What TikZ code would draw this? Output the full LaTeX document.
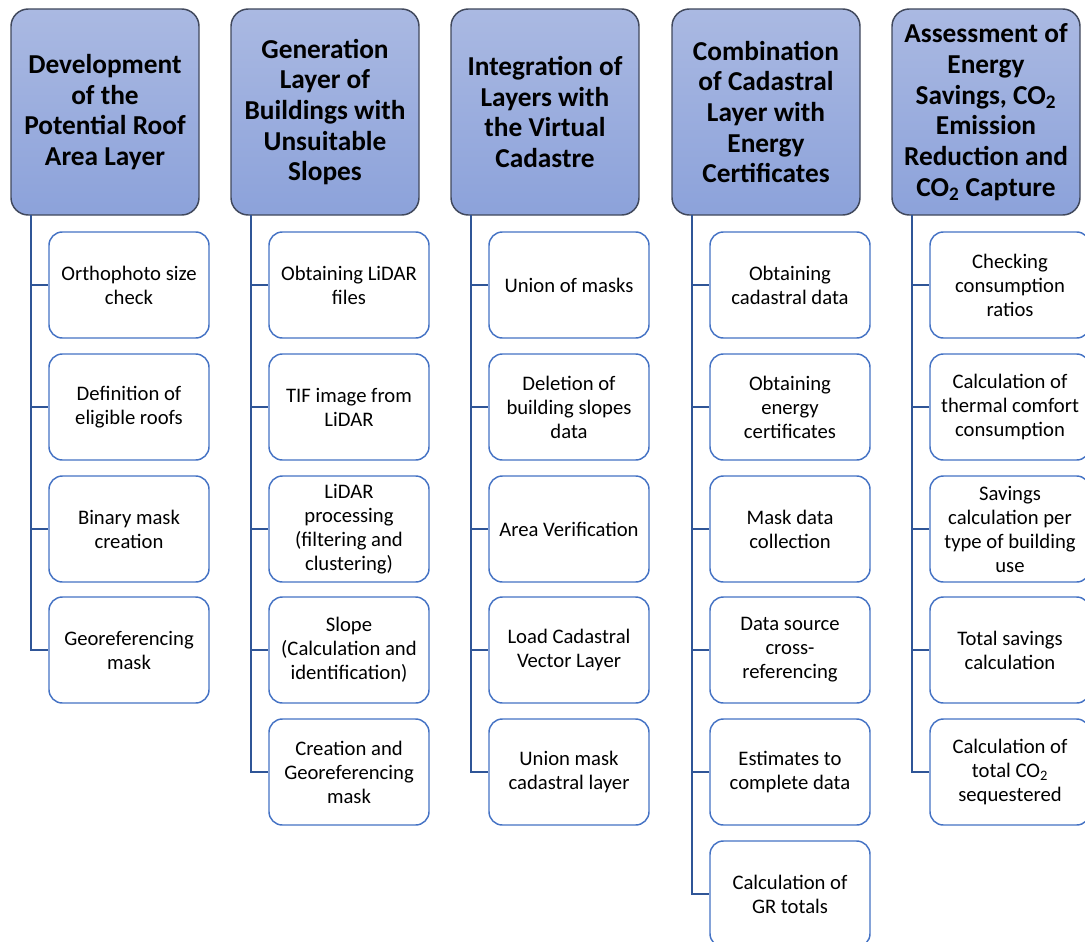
\documentclass[tikz,border=0pt]{standalone}
\usepackage{fontspec}
\setmainfont{Carlito}
\usetikzlibrary{positioning}

\definecolor{headtop}{RGB}{170,185,226}
\definecolor{headbot}{RGB}{140,162,218}
\definecolor{headline}{RGB}{64,72,92}
\definecolor{stepline}{RGB}{68,114,196}
\definecolor{trunk}{RGB}{47,85,151}

\tikzset{
  head/.style={draw=headline, line width=1.1pt, rounded corners=13pt, top color=headtop, bottom color=headbot,
    minimum width=141pt, minimum height=154.5pt, align=center, inner sep=2pt,
    font=\fontsize{20.5}{23}\selectfont\bfseries},
  stepbox/.style={draw=stepline, line width=1.1pt, rounded corners=10pt, fill=white,
    minimum width=120pt, minimum height=79.5pt, align=center, inner sep=2pt,
    font=\fontsize{15.5}{18}\selectfont},
  conn/.style={draw=trunk, line width=2pt}
}

\begin{document}
\begin{tikzpicture}[x=0.75pt,y=0.75pt,yscale=-1,xscale=1]
\useasboundingbox (0,0) rectangle (1085,942);

% Headers
\node [head] (h1) at (105,112) {Development\\of the\\Potential Roof\\Area Layer};
\node [head] (h2) at (325,112) {Generation\\Layer of\\Buildings with\\Unsuitable\\Slopes};
\node [head] (h3) at (545,112) {Integration of\\Layers with\\the Virtual\\Cadastre};
\node [head] (h4) at (766,112) {Combination\\of Cadastral\\Layer with\\Energy\\Certificates};
\node [head] (h5) at (986,112) {Assessment of\\Energy\\Savings, CO\textsubscript{2}\\Emission\\Reduction and\\CO\textsubscript{2} Capture};

% Trunk start points
\coordinate (t1) at (31,215);
\coordinate (t2) at (251,215);
\coordinate (t3) at (471,215);
\coordinate (t4) at (692,215);
\coordinate (t5) at (912,215);

% Column 1
\node [stepbox] (a1) at (129,285) {Orthophoto size\\check};
\node [stepbox] (a2) at (129,407) {Definition of\\eligible roofs};
\node [stepbox] (a3) at (129,529) {Binary mask\\creation};
\node [stepbox] (a4) at (129,650) {Georeferencing\\mask};

% Column 2
\node [stepbox] (b1) at (349,285) {Obtaining LiDAR\\files};
\node [stepbox] (b2) at (349,407) {TIF image from\\LiDAR};
\node [stepbox] (b3) at (349,529) {LiDAR\\processing\\(filtering and\\clustering)};
\node [stepbox] (b4) at (349,650) {Slope\\(Calculation and\\identification)};
\node [stepbox] (b5) at (349,772) {Creation and\\Georeferencing\\mask};

% Column 3
\node [stepbox] (c1) at (569,285) {Union of masks};
\node [stepbox] (c2) at (569,407) {Deletion of\\building slopes\\data};
\node [stepbox] (c3) at (569,529) {Area Verification};
\node [stepbox] (c4) at (569,650) {Load Cadastral\\Vector Layer};
\node [stepbox] (c5) at (569,772) {Union mask\\cadastral layer};

% Column 4
\node [stepbox] (d1) at (790,285) {Obtaining\\cadastral data};
\node [stepbox] (d2) at (790,407) {Obtaining\\energy\\certificates};
\node [stepbox] (d3) at (790,529) {Mask data\\collection};
\node [stepbox] (d4) at (790,650) {Data source\\cross-\\referencing};
\node [stepbox] (d5) at (790,772) {Estimates to\\complete data};
\node [stepbox] (d6) at (790,894) {Calculation of\\GR totals};

% Column 5
\node [stepbox] (e1) at (1010,285) {Checking\\consumption\\ratios};
\node [stepbox] (e2) at (1010,407) {Calculation of\\thermal comfort\\consumption};
\node [stepbox] (e3) at (1010,529) {Savings\\calculation per\\type of building\\use};
\node [stepbox] (e4) at (1010,650) {Total savings\\calculation};
\node [stepbox] (e5) at (1010,772) {Calculation of\\total CO\textsubscript{2}\\sequestered};

% Connections
\draw [conn] (t1) |- (a1.west) (t1) |- (a2.west) (t1) |- (a3.west) (t1) |- (a4.west);
\draw [conn] (t2) |- (b1.west) (t2) |- (b2.west) (t2) |- (b3.west) (t2) |- (b4.west) (t2) |- (b5.west);
\draw [conn] (t3) |- (c1.west) (t3) |- (c2.west) (t3) |- (c3.west) (t3) |- (c4.west) (t3) |- (c5.west);
\draw [conn] (t4) |- (d1.west) (t4) |- (d2.west) (t4) |- (d3.west) (t4) |- (d4.west) (t4) |- (d5.west) (t4) |- (d6.west);
\draw [conn] (t5) |- (e1.west) (t5) |- (e2.west) (t5) |- (e3.west) (t5) |- (e4.west) (t5) |- (e5.west);

\end{tikzpicture}
\end{document}
